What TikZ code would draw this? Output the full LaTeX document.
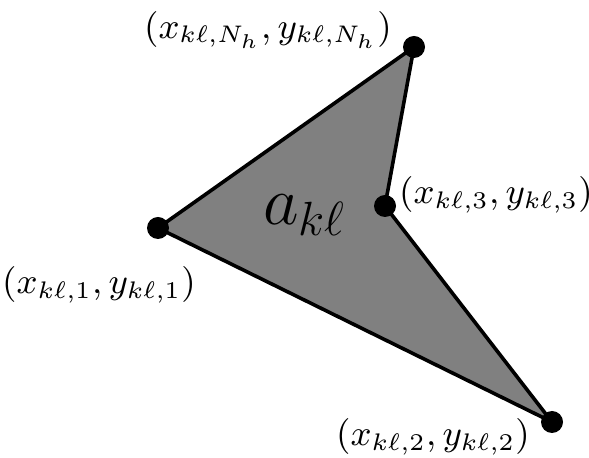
\documentclass[tikz,border=0pt]{standalone}
\usepackage{amsmath}
\usepackage{amssymb}
\usepackage{tikz}
\usetikzlibrary{calc}

\tikzset{
  vertex/.style={circle, fill=black, inner sep=0pt, minimum size=5.5pt},
  coordlabel/.style={inner sep=0pt}
}

\begin{document}
\begin{tikzpicture}[x=0.25pt, y=-0.25pt, font=\fontsize{9.1}{11}\selectfont]
  \useasboundingbox (0,0) rectangle (589,458);
  % corners of the polygon
  \coordinate (c1) at (158,228);
  \coordinate (c2) at (552,422);
  \coordinate (c3) at (385,206);
  \coordinate (cn) at (414,47);
  \filldraw[fill=gray, draw=black, line width=0.9pt, line join=round]
    (c1) -- (c2) -- (c3) -- (cn) -- cycle;
  \node[vertex] (v1) at (c1) {};
  \node[vertex] (v2) at (c2) {};
  \node[vertex] (v3) at (c3) {};
  \node[vertex] (vn) at (cn) {};
  % labels
  \node[font=\LARGE] (area) at (305,215) {$a_{k\ell}$};
  \node[coordlabel] (l1) at (99,285) {$(x_{k\ell,1},y_{k\ell,1})$};
  \node[coordlabel] (l2) at (433,437) {$(x_{k\ell,2},y_{k\ell,2})$};
  \node[coordlabel] (l3) at (496,195) {$(x_{k\ell,3},y_{k\ell,3})$};
  \node[coordlabel] (ln) at (268,30) {$(x_{k\ell,N_h},y_{k\ell,N_h})$};
\end{tikzpicture}
\end{document}
